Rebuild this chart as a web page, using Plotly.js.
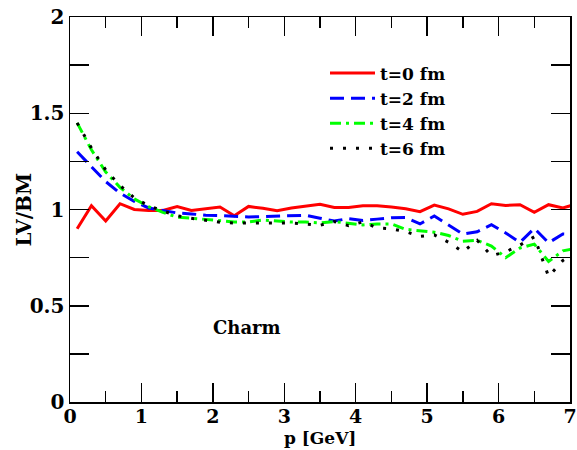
<!DOCTYPE html>
<html>
<head>
<meta charset="utf-8">
<script src="https://cdn.plot.ly/plotly-3.0.1.min.js"></script>
<style>html,body{margin:0;padding:0;background:#fff;}#chart{width:577px;height:450px;}</style>
</head>
<body>
<div id="chart"></div>
<script>
// momentum grid p [GeV]
var pGrid = [0.1,0.3,0.5,0.7,0.9,1.1,1.3,1.5,1.7,1.9,2.1,2.3,2.5,2.7,2.9,3.1,3.3,3.5,3.7,3.9,4.1,4.3,4.5,4.7,4.9,5.1,5.3,5.5,5.7,5.9,6.1,6.3,6.5,6.7,6.9,7.1];

// LV/BM ratio for each time
var ratioT0 = [0.90,1.02,0.94,1.03,1.00,0.995,0.995,1.015,0.995,1.005,1.013,0.968,1.016,1.006,0.994,1.008,1.016,1.027,1.01,1.01,1.02,1.02,1.013,1.004,0.989,1.023,1.003,0.975,0.99,1.03,1.021,1.025,0.985,1.025,1.008,1.03];
var ratioT2 = [1.30,1.22,1.145,1.085,1.042,1.008,0.994,0.982,0.977,0.97,0.968,0.964,0.961,0.963,0.966,0.966,0.97,0.955,0.94,0.953,0.943,0.95,0.957,0.958,0.925,0.966,0.92,0.872,0.884,0.921,0.878,0.829,0.902,0.827,0.873,0.87];
var ratioT4 = [1.45,1.31,1.195,1.115,1.055,1.015,0.985,0.96,0.955,0.948,0.94,0.935,0.935,0.945,0.94,0.935,0.935,0.93,0.937,0.93,0.92,0.925,0.925,0.897,0.89,0.882,0.865,0.835,0.84,0.81,0.75,0.80,0.82,0.73,0.785,0.80];
var ratioT6 = [1.45,1.32,1.205,1.125,1.06,1.02,0.993,0.967,0.954,0.943,0.934,0.93,0.93,0.93,0.93,0.93,0.925,0.918,0.938,0.916,0.935,0.905,0.90,0.885,0.86,0.868,0.83,0.78,0.84,0.76,0.78,0.815,0.858,0.652,0.735,0.78];

var seriesNames = ["t=0 fm","t=2 fm","t=4 fm","t=6 fm"];
var xTickVals = [0,1,2,3,4,5,6,7];
var yTickVals = [0,0.5,1,1.5,2];
var xTitle = "p [GeV]";
var yTitle = "LV/BM";
var panelLabel = "Charm";

var fontFam = "DejaVu Serif, Liberation Serif, serif";

var traces = [
  {x:pGrid, y:ratioT0, name:seriesNames[0], mode:"lines", line:{color:"#ff0000", width:3}},
  {x:pGrid, y:ratioT2, name:seriesNames[1], mode:"lines", line:{color:"#0000ff", width:3, dash:"14px,7px"}},
  {x:pGrid, y:ratioT4, name:seriesNames[2], mode:"lines", line:{color:"#00ff00", width:3, dash:"11px,5px,3px,5px"}},
  {x:pGrid, y:ratioT6, name:seriesNames[3], mode:"lines", line:{color:"#000000", width:3, dash:"3px,10px"}}
];

var layout = {
  width:577, height:450,
  margin:{l:70, r:7, t:17, b:48},
  paper_bgcolor:"#fff", plot_bgcolor:"#fff",
  showlegend:true,
  legend:{x:0.51, y:0.90, xanchor:"left", yanchor:"top", bgcolor:"rgba(0,0,0,0)",
          font:{family:fontFam, size:17, color:"#000", weight:"bold"}, itemwidth:45},
  xaxis:{range:[0,7], tickvals:xTickVals, ticks:"inside", ticklen:19, tickwidth:1.5, tickcolor:"#000",
         minor:{dtick:0.5, ticks:"inside", ticklen:11, tickwidth:1.5, tickcolor:"#000"},
         showline:true, linecolor:"#000", linewidth:1.5, mirror:"allticks",
         showgrid:false, zeroline:false, ticklabelstandoff:-3,
         tickfont:{family:fontFam, size:19, color:"#000", weight:"bold"}},
  yaxis:{range:[0,2], tickvals:yTickVals, ticks:"inside", ticklen:19, tickwidth:1.5, tickcolor:"#000",
         minor:{dtick:0.25, ticks:"inside", ticklen:19, tickwidth:1.5, tickcolor:"#000"},
         showline:true, linecolor:"#000", linewidth:1.5, mirror:"allticks",
         showgrid:false, zeroline:false,
         tickfont:{family:fontFam, size:20, color:"#000", weight:"bold"}},
  annotations:[
    {x:2.48, y:0.386, xref:"x", yref:"y", text:panelLabel, showarrow:false,
     font:{family:fontFam, size:18, color:"#000", weight:"bold"}},
    {x:-0.094, y:0.5, xref:"paper", yref:"paper", text:yTitle, textangle:-90, showarrow:false,
     xanchor:"center", yanchor:"middle",
     font:{family:fontFam, size:20, color:"#000", weight:"bold"}},
    {x:0.5, y:-0.122, xref:"paper", yref:"paper", text:xTitle, showarrow:false,
     xanchor:"center", yanchor:"bottom", borderpad:0,
     font:{family:fontFam, size:17, color:"#000", weight:"bold"}}
  ]
};

Plotly.newPlot("chart", traces, layout, {displayModeBar:false, staticPlot:true});
</script>
</body>
</html>
